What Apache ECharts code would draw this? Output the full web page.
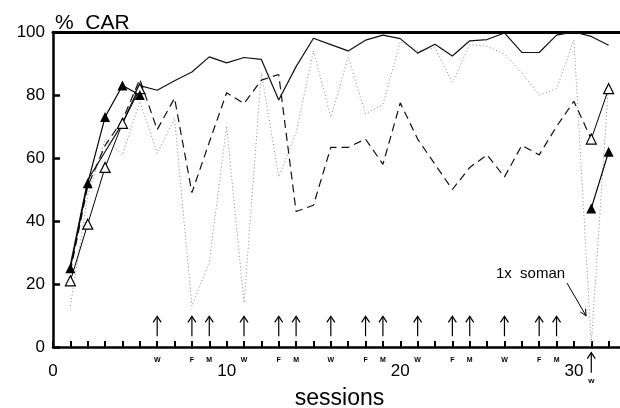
<!DOCTYPE html>
<html>
<head>
<meta charset="utf-8">
<script src="https://cdn.jsdelivr.net/npm/echarts@6/dist/echarts.min.js"></script>
<style>
html, body { margin: 0; padding: 0; background: #fff; }
#chart { width: 620px; height: 408px; }
</style>
</head>
<body>
<div id="chart"></div>
<script>
// sessions 1..32, null = no point for that session
var sessions = [1, 2, 3, 4, 5, 6, 7, 8, 9, 10, 11, 12, 13, 14, 15, 16, 17, 18, 19, 20, 21, 22, 23, 24, 25, 26, 27, 28, 29, 30, 31, 32];
var solidLine = [26, 53, 62, 71, 83, 81.5, 84.5, 87.3, 92.1, 90.2, 91.9, 91.3, 78.4, 89, 98, 96, 94, 97.4, 99, 97.9, 93.3, 96.1, 92.4, 97.2, 97.6, 99.7, 93.5, 93.5, 99, 100, 98.6, 95.8];
var dashedLine = [24, 51, 64, 72, 85, 69, 79, 49, 65, 80.7, 77.3, 84.7, 86.5, 43, 45, 63.4, 63.4, 66, 58, 77.5, 66, 58, 50, 57, 61, 54, 64, 61, 70, 78, 66, null];
var dottedLine = [13, 48, 66, 61, 78, 61.5, 72.6, 13, 27, 70, 14, 87, 54, 68, 94, 73, 92, 74, 77, 97, 94, 95, 84, 96, 95.5, 93, 87, 80, 82, 97.4, 1, 84];
var filledTri = [25, 52, 73, 83, 80, null, null, null, null, null, null, null, null, null, null, null, null, null, null, null, null, null, null, null, null, null, null, null, null, null, 44, 62];
var openTri = [21, 39, 57, 71, 82, null, null, null, null, null, null, null, null, null, null, null, null, null, null, null, null, null, null, null, null, null, null, null, null, null, 66, 82];

// day arrows under the curves
var arrowSessions = [6, 8, 9, 11, 13, 14, 16, 18, 19, 21, 23, 24, 26, 28, 29];
var arrowDays = ['W', 'F', 'M', 'W', 'F', 'M', 'W', 'F', 'M', 'W', 'F', 'M', 'W', 'F', 'M'];
var somanSession = [31];
var somanDay = ['w'];
var somanText = '1x  soman';

var xTickLabels = [0, 10, 20, 30];
var yTickLabels = [0, 20, 40, 60, 80, 100];

var FONT = '"Liberation Sans", Arial, sans-serif';

function pairs(vals) {
	return sessions.map(function(s, i) {
		return [s, vals[i] == null ? '-' : vals[i]];
	});
}

//上箭头
function upArrow(x, yTop, yBot) {
	return [{
		type: 'line',
		shape: { x1: x, y1: yTop, x2: x, y2: yBot },
		style: { stroke: '#000', lineWidth: 1.2 }
	}, {
		type: 'polyline',
		shape: { points: [[x - 4, yTop + 6], [x, yTop], [x + 4, yTop + 6]] },
		style: { stroke: '#000', fill: null, lineWidth: 1.2 }
	}];
}

function renderDayArrow(params, api) {
	var s = api.value(0);
	var top = api.coord([s, 9.7]);
	var bot = api.coord([s, 3.4]);
	var base = api.coord([s, 0]);
	var children = upArrow(top[0], top[1], bot[1]);
	children.push({
		type: 'text',
		x: base[0],
		y: base[1] + 13,
		style: { text: arrowDays[params.dataIndex], fontSize: 7, fontWeight: 'bold', fontFamily: FONT, align: 'center', verticalAlign: 'middle', fill: '#000' }
	});
	return { type: 'group', children: children };
}

function renderSoman(params, api) {
	var s = api.value(0);
	var top = api.coord([s, -1.8]);
	var bot = api.coord([s, -8.2]);
	var lab = api.coord([s, -10.8]);
	var children = upArrow(top[0], top[1], bot[1]);
	children.push({
		type: 'text', x: lab[0], y: lab[1],
		style: { text: somanDay[params.dataIndex], fontSize: 8, fontWeight: 'bold', fontFamily: FONT, align: 'center', verticalAlign: 'middle', fill: '#000' }
	});
	// 注释文字 + 斜箭头
	var t = api.coord([s - 3.5, 23.3]);
	children.push({
		type: 'text', x: t[0], y: t[1],
		style: { text: somanText, fontSize: 15, fontFamily: FONT, align: 'center', verticalAlign: 'middle', fill: '#000' }
	});
	var p1 = api.coord([s - 1.4, 20.3]);
	var p2 = api.coord([s - 0.3, 9.9]);
	var ang = Math.atan2(p2[1] - p1[1], p2[0] - p1[0]);
	var hl = 7, hw = 0.45;
	children.push({
		type: 'line',
		shape: { x1: p1[0], y1: p1[1], x2: p2[0], y2: p2[1] },
		style: { stroke: '#000', lineWidth: 1 }
	});
	children.push({
		type: 'polyline',
		shape: {
			points: [
				[p2[0] - hl * Math.cos(ang - hw), p2[1] - hl * Math.sin(ang - hw)],
				[p2[0], p2[1]],
				[p2[0] - hl * Math.cos(ang + hw), p2[1] - hl * Math.sin(ang + hw)]
			]
		},
		style: { stroke: '#000', fill: null, lineWidth: 1 }
	});
	return { type: 'group', children: children };
}

var myChart = echarts.init(document.getElementById('chart'));
var option = {
	animation: false,
	backgroundColor: '#fff',
	title: {
		text: '%  CAR',
		left: 50,
		top: 8,
		textStyle: { fontSize: 21, fontWeight: 'normal', color: '#000', fontFamily: FONT }
	},
	grid: { left: 53, right: -6, top: 32, bottom: 61, outerBoundsMode: 'none', containLabel: false },
	xAxis: [{
		type: 'value',
		min: 0,
		max: 33,
		interval: 1,
		position: 'bottom',
		name: 'sessions',
		nameLocation: 'middle',
		nameGap: 40,
		nameTextStyle: { fontSize: 23, color: '#000', fontFamily: FONT },
		axisLine: { show: true, onZero: false, lineStyle: { color: '#000', width: 2.5 } },
		axisTick: { inside: true, length: 6, lineStyle: { color: '#000', width: 2 } },
		axisLabel: {
			margin: 16,
			fontSize: 17,
			color: '#000',
			fontFamily: FONT,
			formatter: function(v) {
				return xTickLabels.indexOf(v) >= 0 ? String(v) : '';
			}
		},
		splitLine: { show: false }
	}, {
		type: 'value',
		min: 0,
		max: 33,
		position: 'top',
		axisLine: { show: true, onZero: false, lineStyle: { color: '#000', width: 3 } },
		axisTick: { show: false },
		axisLabel: { show: false },
		splitLine: { show: false }
	}],
	yAxis: {
		type: 'value',
		min: 0,
		max: 100,
		interval: 20,
		axisLine: { show: true, lineStyle: { color: '#000', width: 2.5 } },
		axisTick: { show: true, inside: true, length: 7, lineStyle: { color: '#000', width: 2.5 } },
		axisLabel: {
			margin: 8,
			fontSize: 17,
			color: '#000',
			fontFamily: FONT,
			formatter: function(v) {
				return yTickLabels.indexOf(v) >= 0 ? String(v) : '';
			}
		},
		splitLine: { show: false }
	},
	series: [{
		type: 'line',
		data: pairs(dottedLine),
		symbol: 'none',
		lineStyle: { color: '#8a8a8a', width: 1, type: [1, 2.5] },
		z: 2
	}, {
		type: 'line',
		data: pairs(dashedLine),
		symbol: 'none',
		lineStyle: { color: '#111', width: 1.2, type: [8, 5] },
		z: 3
	}, {
		type: 'line',
		data: pairs(solidLine),
		symbol: 'none',
		lineStyle: { color: '#111', width: 1.2 },
		z: 4
	}, {
		type: 'line',
		data: pairs(openTri),
		symbol: 'triangle',
		symbolSize: 10,
		itemStyle: { color: '#fff', borderColor: '#000', borderWidth: 1.2 },
		lineStyle: { color: '#000', width: 1 },
		z: 5
	}, {
		type: 'line',
		data: pairs(filledTri),
		symbol: 'triangle',
		symbolSize: 10,
		itemStyle: { color: '#000' },
		lineStyle: { color: '#000', width: 1.2 },
		z: 6
	}, {
		type: 'custom',
		data: arrowSessions.map(function(s) { return [s, 0]; }),
		renderItem: renderDayArrow,
		clip: false,
		silent: true,
		z: 7
	}, {
		type: 'custom',
		data: somanSession.map(function(s) { return [s, 0]; }),
		renderItem: renderSoman,
		clip: false,
		silent: true,
		z: 7
	}]
};
myChart.setOption(option);
</script>
</body>
</html>
